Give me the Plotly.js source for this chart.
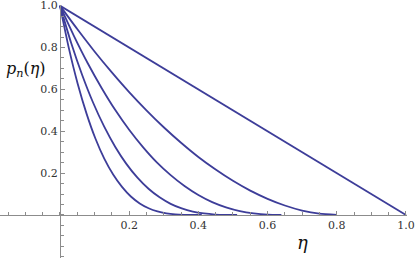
<!DOCTYPE html>
<html>
<head>
<meta charset="utf-8">
<script src="https://cdn.plot.ly/plotly-3.0.1.min.js"></script>
<style>html,body{margin:0;padding:0;background:#fff;}#chart{width:415px;height:258px;}</style>
</head>
<body>
<div id="chart"></div>
<script>
// Values
var eta1 = [0, 1.0];
var p1 = [1.0, 0];

var eta2 = [0, 0.05, 0.1, 0.15, 0.2, 0.25, 0.3, 0.35, 0.4, 0.45, 0.5, 0.55, 0.6, 0.65, 0.7, 0.75, 0.8];
var p2 = [1.0, 0.888, 0.781, 0.681, 0.587, 0.500, 0.419, 0.345, 0.277, 0.217, 0.163, 0.116, 0.077, 0.045, 0.021, 0.006, 0];

var eta3 = [0, 0.04, 0.08, 0.12, 0.16, 0.2, 0.24, 0.28, 0.32, 0.36, 0.4, 0.44, 0.48, 0.52, 0.56, 0.6, 0.64];
var p3 = [1.0, 0.857, 0.726, 0.608, 0.501, 0.407, 0.324, 0.251, 0.190, 0.138, 0.095, 0.061, 0.036, 0.018, 0.007, 0.001, 0];

var eta4 = [0, 0.032, 0.064, 0.096, 0.128, 0.16, 0.192, 0.224, 0.256, 0.288, 0.32, 0.352, 0.384, 0.416, 0.448, 0.48, 0.512];
var p4 = [1.0, 0.824, 0.670, 0.536, 0.422, 0.325, 0.244, 0.178, 0.125, 0.084, 0.053, 0.031, 0.016, 0.007, 0.002, 0.0002, 0];

var eta5 = [0, 0.0256, 0.0513, 0.0769, 0.1025, 0.1281, 0.1538, 0.1794, 0.205, 0.2306, 0.2563, 0.2819, 0.3075, 0.3331, 0.3588, 0.3844, 0.41];
var p5 = [1.0, 0.798, 0.627, 0.484, 0.365, 0.269, 0.193, 0.134, 0.088, 0.055, 0.032, 0.017, 0.008, 0.003, 0.0007, 0.0001, 0];

var xTickVals = [0.2, 0.4, 0.6, 0.8, 1.0];
var xTickText = ['0.2', '0.4', '0.6', '0.8', '1.0'];
var yTickVals = [0.2, 0.4, 0.6, 0.8, 1.0];
var yTickText = ['0.2', '0.4', '0.6', '0.8', '1.0'];

var lineColor = '#3d3d99';
var series = [[eta1, p1], [eta2, p2], [eta3, p3], [eta4, p4], [eta5, p5]];
var traces = series.map(function (s) {
  return {
    x: s[0], y: s[1], type: 'scatter', mode: 'lines',
    line: {color: lineColor, width: 1.8, shape: 'spline', smoothing: 0.6},
    cliponaxis: false, hoverinfo: 'skip'
  };
});

var serif = 'DejaVu Serif';
var axisGray = '#8c8c8c';
var tickFont = {family: serif, size: 11, color: '#333'};

var layout = {
  width: 415, height: 258,
  margin: {l: 0, r: 8, t: 5, b: 0, pad: 0},
  paper_bgcolor: '#fff', plot_bgcolor: '#fff',
  font: {family: serif, size: 11},
  showlegend: false,
  xaxis: {
    range: [-0.1732, 1.003],
    anchor: 'free', position: 0.2057 / 1.2087,
    showline: true, linecolor: axisGray, linewidth: 1,
    showgrid: false, zeroline: false,
    tickmode: 'array', tickvals: xTickVals, ticktext: xTickText,
    ticks: 'inside', ticklen: 4, tickcolor: axisGray, tickwidth: 1,
    ticklabeloverflow: 'allow',
    minor: {tickmode: 'linear', tick0: 0, dtick: 0.05, ticks: 'inside', ticklen: 2.5, tickcolor: axisGray, tickwidth: 1, showgrid: false},
    tickfont: tickFont
  },
  yaxis: {
    range: [-0.2057, 1.003],
    anchor: 'free', position: 60 / 407,
    showline: true, linecolor: axisGray, linewidth: 1,
    showgrid: false, zeroline: false,
    tickmode: 'array', tickvals: yTickVals, ticktext: yTickText,
    ticks: 'inside', ticklen: 4, tickcolor: axisGray, tickwidth: 1,
    ticklabeloverflow: 'allow',
    minor: {tickmode: 'linear', tick0: 0, dtick: 0.05, ticks: 'inside', ticklen: 2.5, tickcolor: axisGray, tickwidth: 1, showgrid: false},
    tickfont: tickFont
  },
  annotations: [
    {x: 0.702, y: -0.134, xref: 'x', yref: 'y', text: '<i>η</i>', showarrow: false,
     font: {family: serif, size: 18, color: '#111'}},
    {x: -0.098, y: 0.694, xref: 'x', yref: 'y', text: '<i>p</i><sub><i>n</i></sub>(<i>η</i>)', showarrow: false,
     font: {family: serif, size: 16, color: '#111'}}
  ]
};

Plotly.newPlot('chart', traces, layout, {staticPlot: true, displayModeBar: false});
</script>
</body>
</html>
